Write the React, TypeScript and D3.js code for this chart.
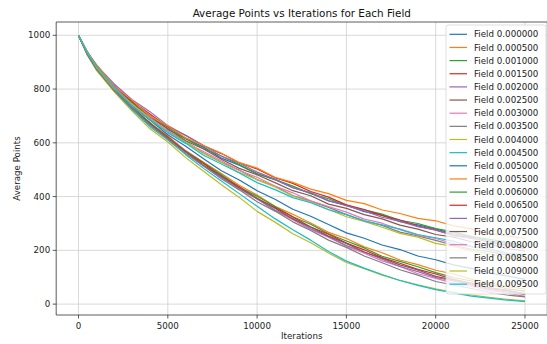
import React from "react";
import * as d3 from "d3";

const iterations = [0, 500, 1000, 2000, 3000, 4000, 5000, 6000, 7000, 8000, 9000, 10000, 11000, 12000, 13000, 14000, 15000, 16000, 17000, 18000, 19000, 20000, 21000, 22000, 23000, 24000, 25000];

const fieldLabels = ["0.000000","0.000500","0.001000","0.001500","0.002000","0.002500","0.003000","0.003500","0.004000","0.004500","0.005000","0.005500","0.006000","0.006500","0.007000","0.007500","0.008000","0.008500","0.009000","0.009500"];

const f0000 = [1000,937,883,813,747,701,650,616,584,543,517,485,463,433,413,384,368,344,331,307,295,280,261,252,235,226,213];
const f0005 = [1000,928,879,798,736,673,626,571,528,486,442,406,364,334,302,267,244,213,191,164,147,126,112,92,80,65,56];
const f0010 = [1000,936,885,812,752,695,659,615,578,551,519,485,463,439,411,392,366,351,335,312,300,281,269,251,241,231,216];
const f0015 = [1000,935,890,809,755,707,660,628,589,560,526,503,470,449,419,398,369,352,329,313,290,276,256,247,230,220,206];
const f0020 = [1000,939,889,819,760,716,664,627,590,550,525,491,465,433,415,385,366,347,323,308,288,275,255,244,232,215,208];
const f0025 = [1000,933,887,804,749,693,653,608,577,539,505,481,452,422,403,372,356,333,317,294,279,259,249,232,223,206,198];
const f0030 = [1000,928,878,797,726,670,614,566,514,472,427,391,348,314,277,249,215,189,161,140,113,96,78,66,51,41,29];
const f0035 = [1000,933,887,802,744,686,645,605,562,528,499,463,438,404,383,360,333,310,293,268,254,237,219,204,195,182,169];
const f0040 = [1000,925,870,790,718,652,603,545,494,444,397,345,305,262,228,190,155,132,108,88,72,57,44,34,25,18,12];
const f0045 = [1000,928,874,794,724,660,610,556,505,458,411,364,318,277,238,196,160,134,110,88,70,54,42,30,22,15,9];
const f0050 = [1000,932,878,805,737,685,630,587,541,496,462,422,390,353,327,296,265,245,220,203,179,165,146,133,115,105,92];
const f0055 = [1000,934,891,811,758,700,663,619,590,561,527,506,472,453,428,411,386,374,350,337,319,310,291,280,262,254,244];
const f0060 = [1000,931,877,800,730,676,620,569,526,481,436,401,363,325,297,262,235,209,178,159,139,117,99,86,73,57,48];
const f0065 = [1000,929,879,795,731,671,622,567,523,476,437,392,359,324,287,260,227,202,173,152,129,112,92,78,61,52,39];
const f0070 = [1000,930,879,795,731,668,618,569,517,471,433,392,350,318,281,251,218,194,167,140,121,99,86,71,55,45,36];
const f0075 = [1000,932,876,797,728,673,617,568,516,477,432,394,357,317,287,253,226,194,171,146,127,103,89,74,58,49,37];
const f0080 = [1000,935,883,807,743,693,643,601,568,533,497,472,439,414,384,363,342,316,301,277,256,244,225,214,203,187,179];
const f0085 = [1000,930,875,795,729,665,614,560,514,466,425,381,346,306,274,238,211,179,154,128,108,84,71,58,44,34,27];
const f0090 = [1000,936,883,801,745,689,639,602,560,528,490,463,436,402,380,352,325,308,286,263,249,226,215,198,187,172,165];
const f0095 = [1000,932,886,804,737,687,637,598,554,521,488,452,426,396,377,351,333,309,295,279,259,247,234,215,205,191,183];

const seriesValues = [f0000,f0005,f0010,f0015,f0020,f0025,f0030,f0035,f0040,f0045,f0050,f0055,f0060,f0065,f0070,f0075,f0080,f0085,f0090,f0095];

const colors = ["#1f77b4","#ff7f0e","#2ca02c","#d62728","#9467bd","#8c564b","#e377c2","#7f7f7f","#bcbd22","#17becf"];

const xTicks = [0, 5000, 10000, 15000, 20000, 25000];
const yTicks = [0, 200, 400, 600, 800, 1000];

const W = 547, H = 344;
const FONT = "DejaVu Sans, sans-serif";

export default function App() {
  const x = d3.scaleLinear().domain([-1250, 26250]).range([56.2, 547.3]);
  const y = d3.scaleLinear().domain([-40.5, 1049.5]).range([315, 22]);
  const line = d3.line<number>().x((_, i) => x(iterations[i])).y((v) => y(v));
  const left = 56.2, right = 547.3, top = 22, bottom = 315;
  const legX = 446, legY = 25, legW = 100, legH = 269, rowH = 13.15;
  return (
    <svg width={W} height={H} style={{ position: "absolute", left: 0, top: 0, background: "#fff" }} fontFamily={FONT}>
      <rect x={0} y={0} width={W} height={H} fill="#fff" />
      <g>
        {xTicks.map((t) => (
          <line key={"gx" + t} x1={x(t)} x2={x(t)} y1={top} y2={bottom} stroke="#cfcfcf" strokeWidth={0.8} />
        ))}
        {yTicks.map((t) => (
          <line key={"gy" + t} x1={left} x2={right} y1={y(t)} y2={y(t)} stroke="#cfcfcf" strokeWidth={0.8} />
        ))}
      </g>
      <g>
        {seriesValues.map((vals, i) => (
          <path key={i} d={line(vals) || ""} fill="none" stroke={colors[i % 10]} strokeWidth={1.2} strokeLinejoin="round" />
        ))}
      </g>
      <g stroke="#333" strokeWidth={0.8} fill="none">
        <line x1={left} x2={left} y1={top} y2={bottom} />
        <line x1={left} x2={right} y1={bottom} y2={bottom} />
        <line x1={left} x2={right} y1={top} y2={top} />
        <line x1={right} x2={right} y1={top} y2={bottom} />
      </g>
      <g fontSize={8.7} fill="#222">
        {xTicks.map((t) => (
          <g key={"tx" + t}>
            <line x1={x(t)} x2={x(t)} y1={bottom} y2={bottom + 3.5} stroke="#333" strokeWidth={0.8} />
            <text x={x(t)} y={bottom + 14} textAnchor="middle">{t}</text>
          </g>
        ))}
        {yTicks.map((t) => (
          <g key={"ty" + t}>
            <line x1={left - 3.5} x2={left} y1={y(t)} y2={y(t)} stroke="#333" strokeWidth={0.8} />
            <text x={left - 6} y={y(t) + 3.1} textAnchor="end">{t}</text>
          </g>
        ))}
      </g>
      <text x={(left + right) / 2} y={17} textAnchor="middle" fontSize={10.4} fill="#111">Average Points vs Iterations for Each Field</text>
      <text x={(left + right) / 2} y={339} textAnchor="middle" fontSize={8.7} fill="#222">Iterations</text>
      <text transform={`translate(20,${(top + bottom) / 2}) rotate(-90)`} textAnchor="middle" fontSize={8.7} fill="#222">Average Points</text>
      <g>
        <rect x={legX} y={legY} width={legW} height={legH} rx={2.5} fill="#fff" fillOpacity={0.8} stroke="#d5d5d5" strokeWidth={0.8} />
        {fieldLabels.map((lab, i) => {
          const cy = legY + 9.3 + i * rowH;
          return (
            <g key={lab}>
              <line x1={legX + 3.5} x2={legX + 21} y1={cy} y2={cy} stroke={colors[i % 10]} strokeWidth={1.2} />
              <text x={legX + 28} y={cy + 3.1} fontSize={8.7} fill="#222">{"Field " + lab}</text>
            </g>
          );
        })}
      </g>
    </svg>
  );
}
